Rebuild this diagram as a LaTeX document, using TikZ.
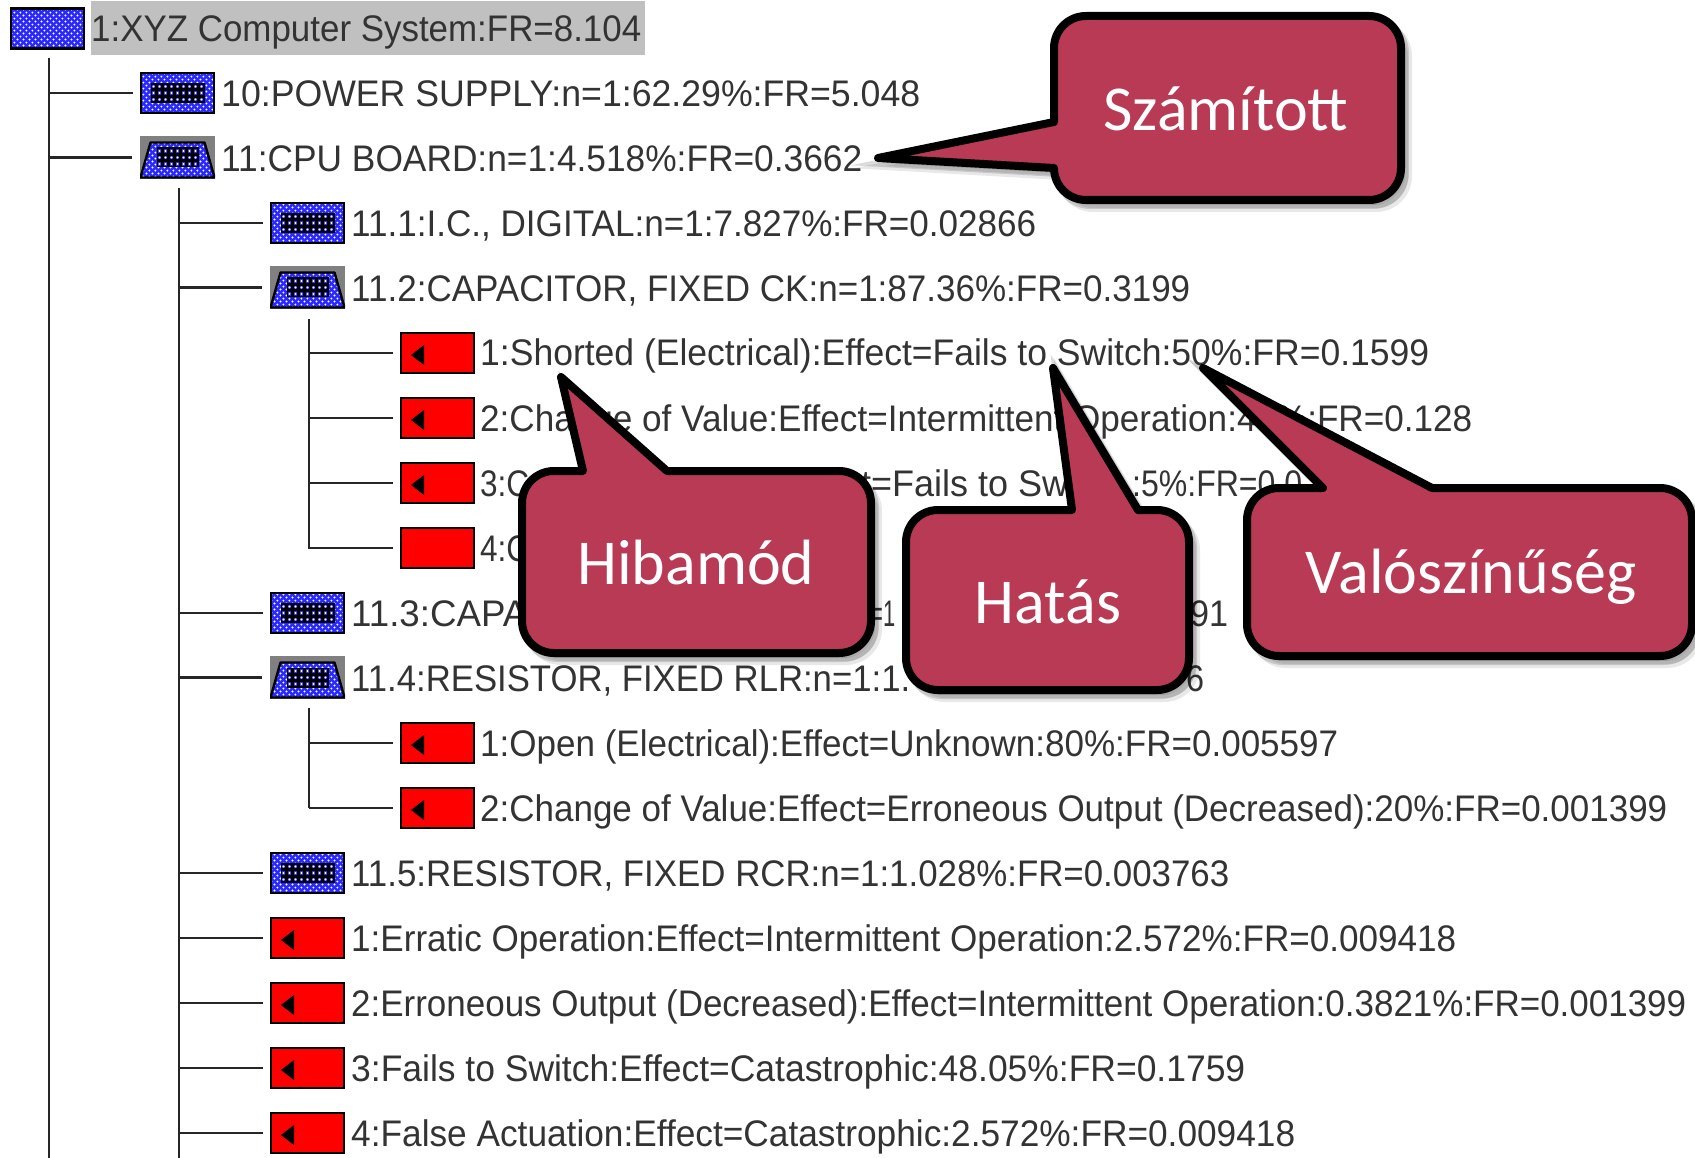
\documentclass[tikz,border=0pt]{standalone}
\usepackage{graphicx}
\usepackage{fontspec}
\setmainfont{Liberation Sans}
\newfontfamily\calloutfont{Carlito}
\usetikzlibrary{patterns, shadows}

\definecolor{iconblue}{RGB}{40,40,255}
\definecolor{icongray}{RGB}{128,128,128}
\definecolor{selgray}{RGB}{192,192,192}
\definecolor{calloutred}{RGB}{184,58,85}

% checker of white dots on the icons
\pgfdeclarepatternformonly{icondots}{\pgfqpoint{-1.6pt}{-1.6pt}}{\pgfqpoint{4.8pt}{4.8pt}}{\pgfqpoint{6.4pt}{6.4pt}}{
    \pgfpathcircle{\pgfpointorigin}{1.15pt}
    \pgfpathcircle{\pgfqpoint{3.2pt}{3.2pt}}{1.15pt}
    \pgfusepath{fill}
}

% squeeze a row of text to its measured width
\newcommand{\fitrow}[2]{\resizebox{#1pt}{\height}{#2}}
\newcommand{\chipgrid}[2]{
    \fill[black] (-#1,-10) rectangle (#1,10);
    \foreach \cx in {#2} \foreach \cy in {-6.5,0,6.5} {
        \fill[iconblue] (\cx-1.8,\cy-1.8) rectangle (\cx+1.8,\cy+1.8);
        \fill[white] (\cx,\cy) circle (1.1);
    }
}

\begin{document}
\begin{tikzpicture}[x=1pt, y=-1pt]
    % Styles
    \tikzstyle{iconbox} = [rectangle, draw=black, line width=2.4pt, minimum width=73pt, minimum height=40pt, inner sep=0pt, outer sep=0pt]
    \tikzstyle{rootbox} = [iconbox, preaction={fill=iconblue}, preaction={pattern=icondots, pattern color=white}]
    \tikzstyle{gridbox} = [rootbox, path picture={\begin{scope}[shift={(path picture bounding box.center)}]\chipgrid{27}{-24,-18,...,24}\end{scope}}]
    \tikzstyle{openbox} = [rectangle, fill=icongray, minimum width=75pt, minimum height=43pt, inner sep=0pt, outer sep=0pt,
        path picture={\begin{scope}[shift={(path picture bounding box.center)}]
            \path[fill=iconblue] (-27,-15) -- (27,-15) -- (37,20) -- (-37,20) -- cycle;
            \path[pattern=icondots, pattern color=white] (-27,-15) -- (27,-15) -- (37,20) -- (-37,20) -- cycle;
            \draw[line width=2.4pt, line join=round] (-27,-15) -- (27,-15) -- (37,20) -- (-37,20) -- cycle;
            \begin{scope}[yshift=-3.5pt]\chipgrid{21}{-18,-12,...,18}\end{scope}\end{scope}}]
    \tikzstyle{modebox} = [iconbox, fill=red]
    \tikzstyle{failbox} = [modebox, path picture={\fill[black] ([shift={(10,2)}]path picture bounding box.west) -- ++(13,-10) -- ++(0,20) -- cycle;}]
    \tikzstyle{rowlabel} = [anchor=base west, inner sep=0pt, text=black!80, font=\fontsize{37}{40}\selectfont]
    \tikzstyle{branch} = [line width=2.6pt, draw=black!85]
    \tikzstyle{calloutshape} = [draw=black, line width=8pt, line join=round, fill=calloutred,
        general shadow={shadow xshift=7pt, shadow yshift=-8pt, fill=black, draw=black, line width=8pt, opacity=.09},
        general shadow={shadow xshift=4pt, shadow yshift=-5pt, fill=black, draw=black, line width=8pt, opacity=.14}]
    \tikzstyle{calloutlabel} = [inner sep=0pt, text=white, font=\calloutfont\fontsize{64}{70}\selectfont]

    \useasboundingbox (0,0) rectangle (1695,1158);

    % Tree coordinates
    \coordinate (trunkA) at (49,58);
    \coordinate (trunkAend) at (49,1158);
    \coordinate (trunkB) at (179,188);
    \coordinate (trunkBend) at (179,1158);
    \coordinate (trunkC) at (309,319);
    \coordinate (trunkCend) at (309,549);
    \coordinate (trunkD) at (309,708);
    \coordinate (trunkDend) at (309,808);

    % Icons
    \node[rootbox] (I0) at (47.5,28.5) {};
    \node[gridbox] (I1) at (177.5,93) {};
    \node[openbox] (I2) at (177.5,157.5) {};
    \node[gridbox] (I3) at (307.5,223) {};
    \node[openbox] (I4) at (307.5,287.5) {};
    \node[failbox] (I5) at (437.5,353) {};
    \node[failbox] (I6) at (437.5,418) {};
    \node[failbox] (I7) at (437.5,483) {};
    \node[modebox] (I8) at (437.5,548) {};
    \node[gridbox] (I9) at (307.5,613) {};
    \node[openbox] (I10) at (307.5,677.5) {};
    \node[failbox] (I11) at (437.5,743) {};
    \node[failbox] (I12) at (437.5,808) {};
    \node[gridbox] (I13) at (307.5,873) {};
    \node[failbox] (I14) at (307.5,938) {};
    \node[failbox] (I15) at (307.5,1003) {};
    \node[failbox] (I16) at (307.5,1068) {};
    \node[failbox] (I17) at (307.5,1133) {};

    % Row texts
    \node[fill=selgray, minimum width=554pt, minimum height=54pt, inner sep=0pt] (S0) at (368,28) {};
    \node[rowlabel] (T0) at (91,42) {\fitrow{550}{1:XYZ Computer System:FR=8.104}};
    \node[rowlabel] (T1) at (221,107) {\fitrow{699}{10:POWER SUPPLY:n=1:62.29\%:FR=5.048}};
    \node[rowlabel] (T2) at (221,172) {\fitrow{641}{11:CPU BOARD:n=1:4.518\%:FR=0.3662}};
    \node[rowlabel] (T3) at (351,237) {\fitrow{685}{11.1:I.C., DIGITAL:n=1:7.827\%:FR=0.02866}};
    \node[rowlabel] (T4) at (351,302) {\fitrow{839}{11.2:CAPACITOR, FIXED CK:n=1:87.36\%:FR=0.3199}};
    \node[rowlabel] (T5) at (480,366) {\fitrow{949}{1:Shorted (Electrical):Effect=Fails to Switch:50\%:FR=0.1599}};
    \node[rowlabel] (T6) at (480,431) {\fitrow{992}{2:Change of Value:Effect=Intermittent Operation:40\%:FR=0.128}};
    \node[rowlabel] (T7a) at (480,496) {\fitrow{49}{3:C}};
    \node[rowlabel] (T7b) at (861,496) {\fitrow{207}{t=Fails to Sw}};
    \node[rowlabel] (T7c) at (1132,496) {\fitrow{170}{:5\%:FR=0.0}};
    \node[rowlabel] (T8) at (480,561) {\fitrow{49}{4:C}};
    \node[rowlabel] (T9a) at (351,626) {\fitrow{176}{11.3:CAPA}};
    \node[rowlabel] (T9b) at (870,626) {\fitrow{25}{=1}};
    \node[rowlabel] (T9c) at (1190,626) {\fitrow{38}{91}};
    \node[rowlabel] (T10a) at (351,691) {\fitrow{559}{11.4:RESISTOR, FIXED RLR:n=1:1.}};
    \node[rowlabel] (T10b) at (1186,691) {\fitrow{18}{6}};
    \node[rowlabel] (T11) at (480,756) {\fitrow{858}{1:Open (Electrical):Effect=Unknown:80\%:FR=0.005597}};
    \node[rowlabel] (T12) at (480,821) {\fitrow{1187}{2:Change of Value:Effect=Erroneous Output (Decreased):20\%:FR=0.001399}};
    \node[rowlabel] (T13) at (351,886) {\fitrow{878}{11.5:RESISTOR, FIXED RCR:n=1:1.028\%:FR=0.003763}};
    \node[rowlabel] (T14) at (351,951) {\fitrow{1105}{1:Erratic Operation:Effect=Intermittent Operation:2.572\%:FR=0.009418}};
    \node[rowlabel] (T15) at (351,1016) {\fitrow{1335}{2:Erroneous Output (Decreased):Effect=Intermittent Operation:0.3821\%:FR=0.001399}};
    \node[rowlabel] (T16) at (351,1081) {\fitrow{894}{3:Fails to Switch:Effect=Catastrophic:48.05\%:FR=0.1759}};
    \node[rowlabel] (T17) at (351,1146) {\fitrow{944}{4:False Actuation:Effect=Catastrophic:2.572\%:FR=0.009418}};

    % Trunks
    \draw[branch] (trunkA) -- (trunkAend);
    \draw[branch] (trunkB) -- (trunkBend);
    \draw[branch] (trunkC) -- (trunkCend);
    \draw[branch] (trunkD) -- (trunkDend);

    % Branches
    \draw[branch] (trunkA |- I1.west) -- ([xshift=-8pt]I1.west);
    \draw[branch] (trunkA |- I2.west) -- ([xshift=-8pt]I2.west);
    \draw[branch] (trunkB |- I3.west) -- ([xshift=-8pt]I3.west);
    \draw[branch] (trunkB |- I4.west) -- ([xshift=-8pt]I4.west);
    \draw[branch] (trunkC |- I5.west) -- ([xshift=-8pt]I5.west);
    \draw[branch] (trunkC |- I6.west) -- ([xshift=-8pt]I6.west);
    \draw[branch] (trunkC |- I7.west) -- ([xshift=-8pt]I7.west);
    \draw[branch] (trunkC |- I8.west) -- ([xshift=-8pt]I8.west);
    \draw[branch] (trunkB |- I9.west) -- ([xshift=-8pt]I9.west);
    \draw[branch] (trunkB |- I10.west) -- ([xshift=-8pt]I10.west);
    \draw[branch] (trunkD |- I11.west) -- ([xshift=-8pt]I11.west);
    \draw[branch] (trunkD |- I12.west) -- ([xshift=-8pt]I12.west);
    \draw[branch] (trunkB |- I13.west) -- ([xshift=-8pt]I13.west);
    \draw[branch] (trunkB |- I14.west) -- ([xshift=-8pt]I14.west);
    \draw[branch] (trunkB |- I15.west) -- ([xshift=-8pt]I15.west);
    \draw[branch] (trunkB |- I16.west) -- ([xshift=-8pt]I16.west);
    \draw[branch] (trunkB |- I17.west) -- ([xshift=-8pt]I17.west);

    % Callouts
    \draw[calloutshape] (1054,168) [rounded corners=32pt] -- (1054,200) -- (1401,200) -- (1401,16) -- (1054,16) [sharp corners] -- (1054,122) -- (878,158) -- (1054,168) -- cycle;
    \node[calloutlabel] (Szamitott) at (1226,109) {Számított};

    \draw[calloutshape] (667,471) [rounded corners=32pt] -- (871,471) -- (871,653) -- (522,653) -- (522,471) [sharp corners] -- (583,471) -- (561,377) -- (667,471) -- cycle;
    \node[calloutlabel] (Hibamod) at (696,563) {Hibamód};

    \draw[calloutshape] (1138,510) [rounded corners=32pt] -- (1189,510) -- (1189,690) -- (906,690) -- (906,510) [sharp corners] -- (1072,510) -- (1053,368) -- (1138,510) -- cycle;
    \node[calloutlabel] (Hatas) at (1048,602) {Hatás};

    \draw[calloutshape] (1432,488) [rounded corners=32pt] -- (1692,488) -- (1692,656) -- (1247,656) -- (1247,488) [sharp corners] -- (1323,488) -- (1203,368) -- (1432,488) -- cycle;
    \node[calloutlabel] (Valoszinuseg) at (1471,577) {Valószínűség};
\end{tikzpicture}
\end{document}
